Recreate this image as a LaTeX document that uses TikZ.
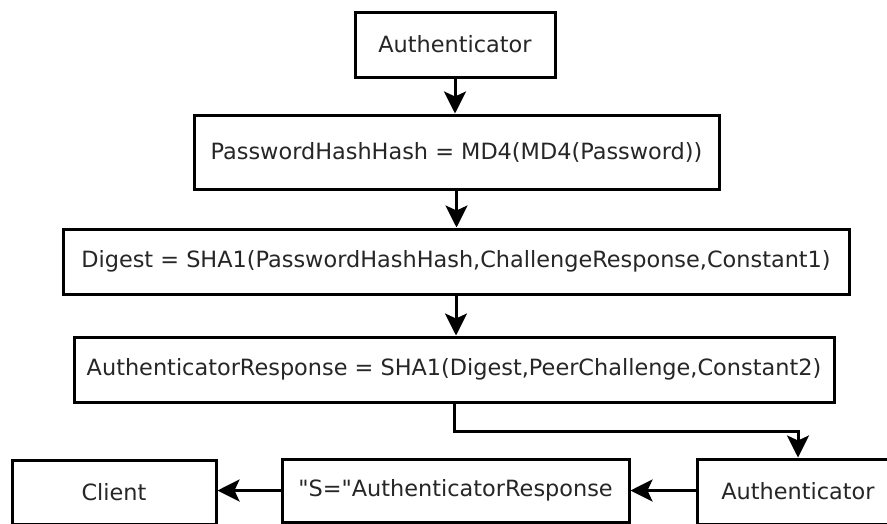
\documentclass[tikz,border=0pt]{standalone}
\usepackage{fontspec}
\setmainfont{DejaVu Sans}[Ligatures=TeXOff]
\usetikzlibrary{arrows.meta}
\begin{document}
\begin{tikzpicture}[x=1pt,y=-1pt,
  box/.style={draw=black, line width=3pt, fill=white, inner sep=2pt,
    font=\fontsize{22.4}{27}\selectfont, text=black!85},
  flow/.style={line width=3pt, -{Stealth[length=22pt,width=22pt,inset=5pt]}}]
  \useasboundingbox (0,0) rectangle (887,523);
  \clip (0,0) rectangle (887,523);
  \fill[white] (0,0) rectangle (887,523);

  % computation chain
  \node[box, minimum width=200pt, minimum height=65pt] (auth) at (455,44.5) {Authenticator};
  \node[box, minimum width=525pt, minimum height=74pt] (pwd) at (456.5,152) {PasswordHashHash = MD4(MD4(Password))};
  \node[box, minimum width=786pt, minimum height=65pt] (digest) at (456,261.5) {Digest = SHA1(PasswordHashHash,ChallengeResponse,Constant1)};
  \node[box, minimum width=760pt, minimum height=65pt] (resp) at (454,369.5) {AuthenticatorResponse = SHA1(Digest,PeerChallenge,Constant2)};

  % message row
  \node[box, minimum width=204pt, minimum height=64pt] (client) at (114,492) {Client};
  \node[box, minimum width=347pt, minimum height=63pt] (sresp) at (455.5,490.5) {"S="AuthenticatorResponse};
  \node[box, minimum width=202pt, minimum height=65pt] (auth2) at (798,491.5) {Authenticator};

  % connectors
  \draw[flow] (auth.south) -- (auth.south |- pwd.north);
  \draw[flow] (pwd.south) -- (pwd.south |- digest.north);
  \draw[flow] (digest.south) -- (digest.south |- resp.north);
  \coordinate (bend) at (454,431);
  \draw[flow] (resp.south) -- (bend) -| (auth2.north);
  \draw[flow] (auth2.west |- sresp.east) -- (sresp.east);
  \draw[flow] (sresp.west) -- (sresp.west -| client.east);
\end{tikzpicture}
\end{document}
